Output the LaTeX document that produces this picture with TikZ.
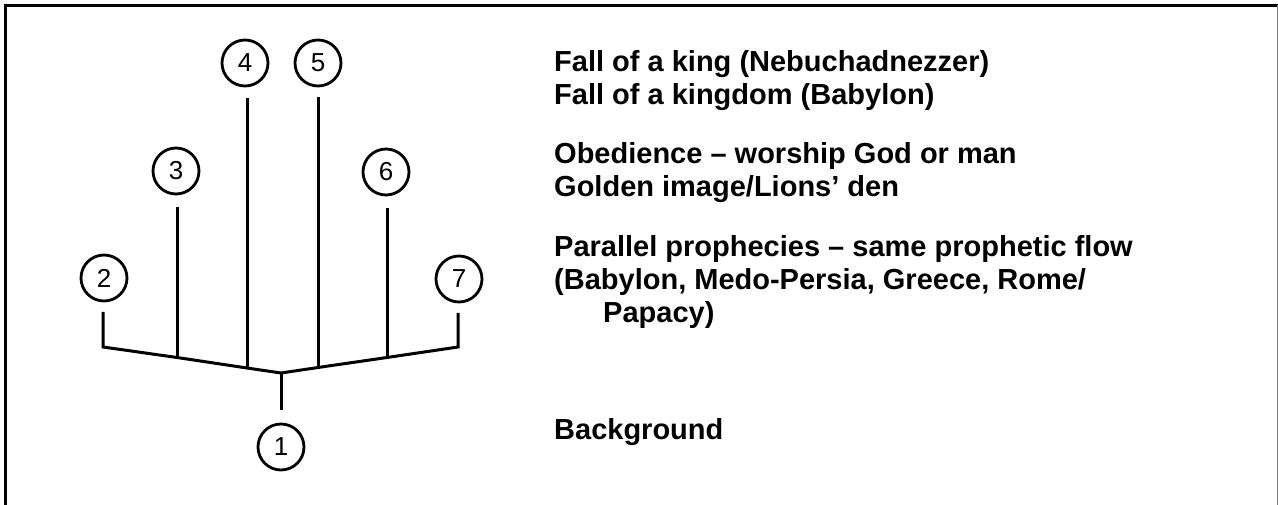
\documentclass[tikz,border=0pt]{standalone}
\usepackage{fontspec}
\setmainfont{Liberation Sans}
\begin{document}
\begin{tikzpicture}[x=1pt,y=-1pt,
  num/.style={circle,draw,line width=2.8pt,minimum size=46pt,inner sep=0pt,font=\fontsize{26}{26}\selectfont},
  lbl/.style={anchor=base west,inner sep=0pt,font=\fontsize{29}{33}\selectfont\bfseries},
  conn/.style={line width=3pt,line join=miter}]
\useasboundingbox (0,0) rectangle (1278,505);
% frame
\draw[line width=3pt] (5.5,505) -- (5.5,5.5) -- (1278,5.5);
\draw[gray,line width=1pt] (1277,5.5) -- (1277,505);
% circles
\node[num] (c1) at (281,447) {1};
\node[num] (c2) at (104,278) {2};
\node[num] (c3) at (176,171) {3};
\node[num] (c4) at (245,63) {4};
\node[num] (c5) at (318,63) {5};
\node[num] (c6) at (386,172) {6};
\node[num] (c7) at (459,279) {7};
% tree coordinates
\coordinate (t2) at (103,312);
\coordinate (t3) at (177,207);
\coordinate (t4) at (247,98);
\coordinate (t5) at (318,97);
\coordinate (t6) at (387,208);
\coordinate (t7) at (458,313);
\coordinate (b2) at (103,347);
\coordinate (b3) at (177,357.5);
\coordinate (b4) at (247,368);
\coordinate (j) at (281,373);
\coordinate (b5) at (318,367.5);
\coordinate (b6) at (387,357.5);
\coordinate (b7) at (458,347);
\coordinate (s) at (281,410);
\draw[conn] (t2) -- (b2) -- (b3) -- (b4) -- (j) -- (b5) -- (b6) -- (b7) -- (t7);
\draw[conn] (t3) -- (b3);
\draw[conn] (t4) -- (b4);
\draw[conn] (t5) -- (b5);
\draw[conn] (t6) -- (b6);
\draw[conn] (j) -- (s);
% texts
\node[lbl] (l1) at (554,72) {Fall of a king (Nebuchadnezzer)};
\node[lbl] (l2) at (554,105) {Fall of a kingdom (Babylon)};
\node[lbl] (l3) at (554,164) {Obedience – worship God or man};
\node[lbl] (l4) at (554,197) {Golden image/Lions’ den};
\node[lbl] (l5) at (554,257) {Parallel prophecies – same prophetic flow};
\node[lbl] (l6) at (554,290) {(Babylon, Medo-Persia, Greece, Rome/};
\node[lbl] (l7) at (603,323) {Papacy)};
\node[lbl] (l8) at (554,439) {Background};
\end{tikzpicture}
\end{document}
